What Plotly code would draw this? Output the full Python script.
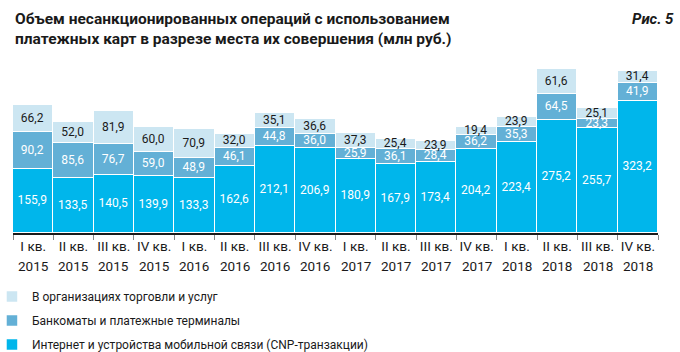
import plotly.graph_objects as go

quarters = ["I кв.", "II кв.", "III кв.", "IV кв."] * 4
years = ["2015"] * 4 + ["2016"] * 4 + ["2017"] * 4 + ["2018"] * 4
categories = [f"{q} {y}" for q, y in zip(quarters, years)]

internet = [155.9, 133.5, 140.5, 139.9, 133.3, 162.6, 212.1, 206.9,
            180.9, 167.9, 173.4, 204.2, 223.4, 275.2, 255.7, 323.2]
atm = [90.2, 85.6, 76.7, 59.0, 48.9, 46.1, 44.8, 36.0,
       25.9, 36.1, 28.4, 36.2, 35.3, 64.5, 23.3, 41.9]
trade = [66.2, 52.0, 81.9, 60.0, 70.9, 32.0, 35.1, 36.6,
         37.3, 25.4, 23.9, 19.4, 23.9, 61.6, 25.1, 31.4]

names = ["Интернет и устройства мобильной связи (CNP-транзакции)",
         "Банкоматы и платежные терминалы",
         "В организациях торговли и услуг"]
colors = ["#00b6eb", "#63b0d6", "#cce6f2"]
text_colors = ["white", "white", "#1a1a1a"]
ranks = [3, 2, 1]

FONT = "Roboto, sans-serif"

def fmt(v):
    return f"{v:.1f}".replace(".", ",")

fig = go.Figure()
for i, (vals, name) in enumerate(zip([internet, atm, trade], names)):
    fig.add_trace(go.Bar(
        x=categories, y=vals, name=name,
        marker=dict(color=colors[i], line=dict(color="white", width=1.5)),
        text=[fmt(v) for v in vals], textposition="inside",
        insidetextanchor="middle",
        textfont=dict(color=text_colors[i], size=12, family=FONT),
        legendrank=ranks[i], legendgroup=f"g{i}",
        hoverinfo="skip",
    ))

for c, y in zip(categories, years):
    fig.add_annotation(x=c, y=0, xref="x", yref="paper", yshift=-33,
                       text=y, showarrow=False, yanchor="middle",
                       font=dict(size=13.5, family=FONT, color="#1a1a1a"))

fig.add_annotation(x=0, y=1, xref="paper", yref="paper", xanchor="left", yanchor="top",
                   text="<b>Объем несанкционированных операций с использованием<br>платежных карт в разрезе места их совершения (млн руб.)</b>",
                   showarrow=False, align="left", yshift=53,
                   font=dict(size=15.5, family=FONT, color="#1a1a1a"))
fig.add_annotation(x=1, y=1, xref="paper", yref="paper", xanchor="right", yanchor="top",
                   text="<i><b>Рис. 5</b></i>", showarrow=False,
                   xshift=18, yshift=53,
                   font=dict(size=15, family=FONT, color="#1a1a1a"))

fig.update_layout(
    width=680, height=352,
    margin=dict(l=13, r=22, t=61, b=119, autoexpand=False),
    barmode="stack", bargap=0,
    paper_bgcolor="white", plot_bgcolor="white",
    uniformtext=dict(minsize=12, mode="show"),
    font=dict(family=FONT, color="#1a1a1a"),
    showlegend=True,
    legend=dict(orientation="v", traceorder="grouped",
                x=-0.0326, xanchor="left", y=-0.285, yanchor="top",
                font=dict(size=12, family=FONT, color="#1a1a1a"),
                tracegroupgap=5, itemwidth=30, bgcolor="rgba(0,0,0,0)"),
    xaxis=dict(type="category", tickmode="array", tickvals=categories,
               ticktext=quarters, tickson="boundaries", ticks="outside",
               ticklen=5, tickcolor="#888", showline=True, linecolor="#1a1a1a",
               linewidth=1.5, tickangle=0, automargin=False,
               tickfont=dict(size=13.5, family=FONT, color="#1a1a1a"),
               showgrid=False, fixedrange=True),
    yaxis=dict(range=[0, 420], visible=False, showgrid=False, fixedrange=True,
               automargin=False),
)

fig.write_html("out.html")
